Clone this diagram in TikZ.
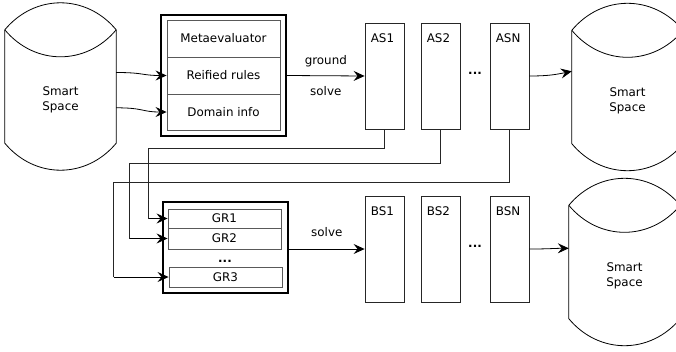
\documentclass[tikz,border=0pt]{standalone}
\usepackage{fontspec}
\setmainfont{DejaVu Sans}
\usetikzlibrary{arrows.meta,calc}
\newcommand\mycyl[1]{%
  \draw[cylline] ([shift={(0,-27)}]#1.north west) -- (#1.south west)
    .. controls +(30,36) and +(-30,36) .. (#1.south east)
    -- ([shift={(0,-27)}]#1.north east);
  \draw[cylline] ([shift={(0,-27)}]#1.north west)
    .. controls +(30,-36) and +(-30,-36) .. ([shift={(0,-27)}]#1.north east);
  \draw[cylline] ([shift={(0,-27)}]#1.north west)
    .. controls +(30,36) and +(-30,36) .. ([shift={(0,-27)}]#1.north east);
}
\newcommand\sstext{\raisebox{-2pt}{\begin{tabular}{@{}c@{}}Smart\\Space\end{tabular}}}
\begin{document}
\begin{tikzpicture}[x=1pt,y=-1pt,
  every node/.style={font=\fontsize{11.9}{15}\selectfont},
  cylbody/.style={draw=none, minimum width=111pt, minimum height=86pt, inner sep=0pt, align=center},
  cylline/.style={line width=0.8pt, black},
  outerbox/.style={draw=black, line width=2pt, inner sep=0pt},
  innerbox/.style={draw=black!65, line width=0.9pt, inner sep=0pt, minimum width=113pt},
  solbox/.style={draw=black!85, line width=0.8pt, minimum width=39pt, minimum height=106pt, inner sep=0pt},
  boxlbl/.style={anchor=base west, inner sep=0pt},
  dots/.style={inner sep=0pt, font=\fontsize{11.9}{15}\selectfont\bfseries},
  arr/.style={-{Stealth[length=11pt,width=10pt,inset=4pt]}, line width=0.8pt, black},
  conn/.style={line width=0.8pt, black!85}
]
\useasboundingbox (0,0) rectangle (676,351);
\clip (0,0) rectangle (676,351);

% Smart spaces
\node[cylbody] (ssL) at (60.5,100) {\sstext};
\mycyl{ssL}
\node[cylbody] (ssR) at (627.5,100.5) {\sstext};
\mycyl{ssR}
\node[cylbody] (ssB) at (624.5,275.5) {\sstext};
\mycyl{ssB}

% Metaevaluator block
\node[outerbox, minimum width=125pt, minimum height=121pt] (meta) at (223.5,75.5) {};
\node[innerbox, minimum height=37pt] (metaev) at (223.5,38.5) {Metaevaluator};
\node[innerbox, minimum height=37pt] (reif) at (223.5,75.5) {Reified rules};
\node[innerbox, minimum height=36pt] (dom) at (223.5,112) {Domain info};

% GR block
\node[outerbox, minimum width=125pt, minimum height=91pt] (grbox) at (225.5,247.5) {};
\node[innerbox, minimum height=19pt] (gr1) at (224.5,218.5) {GR1};
\node[innerbox, minimum height=21pt] (gr2) at (224.5,238.5) {GR2};
\node[dots] (grdots) at (225,261) {...};
\node[innerbox, minimum height=20pt] (gr3) at (225.5,277) {GR3};

% AS boxes
\node[solbox] (as1) at (384.5,76) {};
\node[solbox] (as2) at (440.5,76) {};
\node[solbox] (asn) at (509.5,76) {};
\node[boxlbl] at ([shift={(6,20)}]as1.north west) {AS1};
\node[boxlbl] at ([shift={(6,20)}]as2.north west) {AS2};
\node[boxlbl] at ([shift={(6,20)}]asn.north west) {ASN};
\node[dots] (asdots) at (475,73) {...};

% BS boxes
\node[solbox] (bs1) at (384.5,249) {};
\node[solbox] (bs2) at (440.5,249) {};
\node[solbox] (bsn) at (509.5,249) {};
\node[boxlbl] at ([shift={(6,20)}]bs1.north west) {BS1};
\node[boxlbl] at ([shift={(6,20)}]bs2.north west) {BS2};
\node[boxlbl] at ([shift={(6,20)}]bsn.north west) {BSN};
\node[dots] (bsdots) at (475,246) {...};

% Arrows
\draw[arr] ([shift={(0,15.7)}]ssL.north east) .. controls +(28,0) and +(-25,0) .. (reif.west);
\draw[arr] ([shift={(0,51)}]ssL.north east) .. controls +(28,0) and +(-25,0) .. (dom.west);
\draw[arr] (meta.east) -- node[midway, yshift=15pt] {ground} node[midway, yshift=-15pt] {solve} (as1.west);
\draw[arr] (asn.east) .. controls +(20,0) and +(-15,3) .. ([shift={(0,14)}]ssR.north west);
\draw[arr] (bs1.west -| grbox.east) -- node[midway, yshift=17pt] {solve} (bs1.west);
\draw[arr] (bsn.east) .. controls +(20,0) and +(-15,0) .. ([shift={(0,16)}]ssB.north west);

\draw[conn] (as1.south) -- ++(0,19) -| ([shift={(-19,0)}]gr1.west);
\draw[arr] ([shift={(-19,0)}]gr1.west) -- (gr1.west);
\draw[conn] (as2.south) -- ++(0,34) -| ([shift={(-38,0)}]gr2.west);
\draw[arr] ([shift={(-38,0)}]gr2.west) -- (gr2.west);
\draw[conn] (asn.south) -- ++(0,53) -| ([shift={(-55,0)}]gr3.west);
\draw[arr] ([shift={(-55,0)}]gr3.west) -- (gr3.west);
\end{tikzpicture}
\end{document}
